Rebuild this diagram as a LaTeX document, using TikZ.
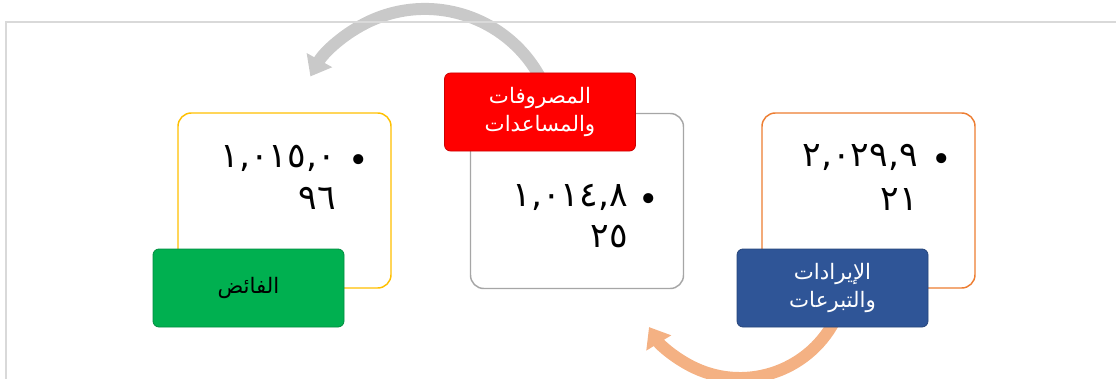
\documentclass[tikz,border=0pt]{standalone}
\usepackage{fontspec}
\usepackage{tikz}
\usetikzlibrary{arrows.meta,positioning}
\newfontfamily\arabicfont[Script=Arabic]{DejaVu Sans}
\TeXXeTstate=1

\definecolor{boxyellow}{RGB}{255,192,0}
\definecolor{boxorange}{RGB}{237,125,49}
\definecolor{boxgray}{RGB}{166,166,166}
\definecolor{taggreen}{RGB}{0,176,80}
\definecolor{tagred}{RGB}{255,0,0}
\definecolor{tagblue}{RGB}{47,85,151}
\definecolor{arrowgray}{RGB}{201,201,201}
\definecolor{arrowsalmon}{RGB}{244,177,131}
\definecolor{framegray}{RGB}{217,217,217}

\tikzset{
  valbox/.style={draw=#1, line width=1.1pt, fill=white, rounded corners=10pt,
    minimum width=159.75pt, minimum height=131.25pt, inner sep=0pt},
  tagbox/.style={draw=#1!80!black, line width=0.6pt, fill=#1, rounded corners=4.5pt,
    minimum width=143.25pt, minimum height=58.5pt, inner sep=0pt, align=center,
    font=\arabicfont\fontsize{16}{21}\selectfont},
  numtext/.style={font=\arabicfont\fontsize{26}{30}\selectfont, inner sep=0pt, anchor=base east},
  flowarrow/.style={draw=#1, line width=9pt, -{Triangle[width=21pt,length=14pt]}}
}

\begin{document}
\begin{tikzpicture}[x=0.75pt,y=0.75pt,yscale=-1,xscale=1]
\clip (0,0) rectangle (1116,378);

%Curve Lines: outgoing
\coordinate (spendTail) at (543.7,84.6);
\draw [flowarrow=arrowgray] (spendTail) arc[start angle=-25, end angle=-151, radius=131];

%Curve Lines: incoming
\coordinate (incomeTail) at (836.7,316.4);
\draw [flowarrow=arrowsalmon] (incomeTail) arc[start angle=25, end angle=148.5, radius=106.7];

%Straight Lines: frame
\draw [framegray, line width=1.5pt] (6,390) -- (6,22) -- (1130,22) ;

%Shape: Rounded Rect
\node (surplusBox) [valbox=boxyellow] at (284.5,200.5) {};
\node (spendBox) [valbox=boxgray] at (577,201) {};
\node (incomeBox) [valbox=boxorange] at (868.5,200.5) {};

%Text: values
\node (surplusDot) [numtext] at (369,172) {•};
\node (surplusNum1) [numtext] at (336,167) {١,٠١٥,٠};
\node (surplusNum2) [numtext] at (336,209) {٩٦};

\node (spendDot) [numtext] at (659,211) {•};
\node (spendNum1) [numtext] at (628,206) {١,٠١٤,٨};
\node (spendNum2) [numtext] at (628,247) {٢٥};

\node (incomeDot) [numtext] at (952,171) {•};
\node (incomeNum1) [numtext] at (918,166) {٢,٠٢٩,٩};
\node (incomeNum2) [numtext] at (918,210) {٢١};

%Shape: Tags
\node (surplusTag) [tagbox=taggreen, text=black] at (248.5,288) {\beginR الفائض\endR};
\node (spendTag) [tagbox=tagred, text=white] at (540,112) {\beginR المصروفات\endR\\\beginR والمساعدات\endR};
\node (incomeTag) [tagbox=tagblue, text=white] at (832.5,288) {\beginR الإيرادات\endR\\\beginR والتبرعات\endR};
\end{tikzpicture}
\end{document}
